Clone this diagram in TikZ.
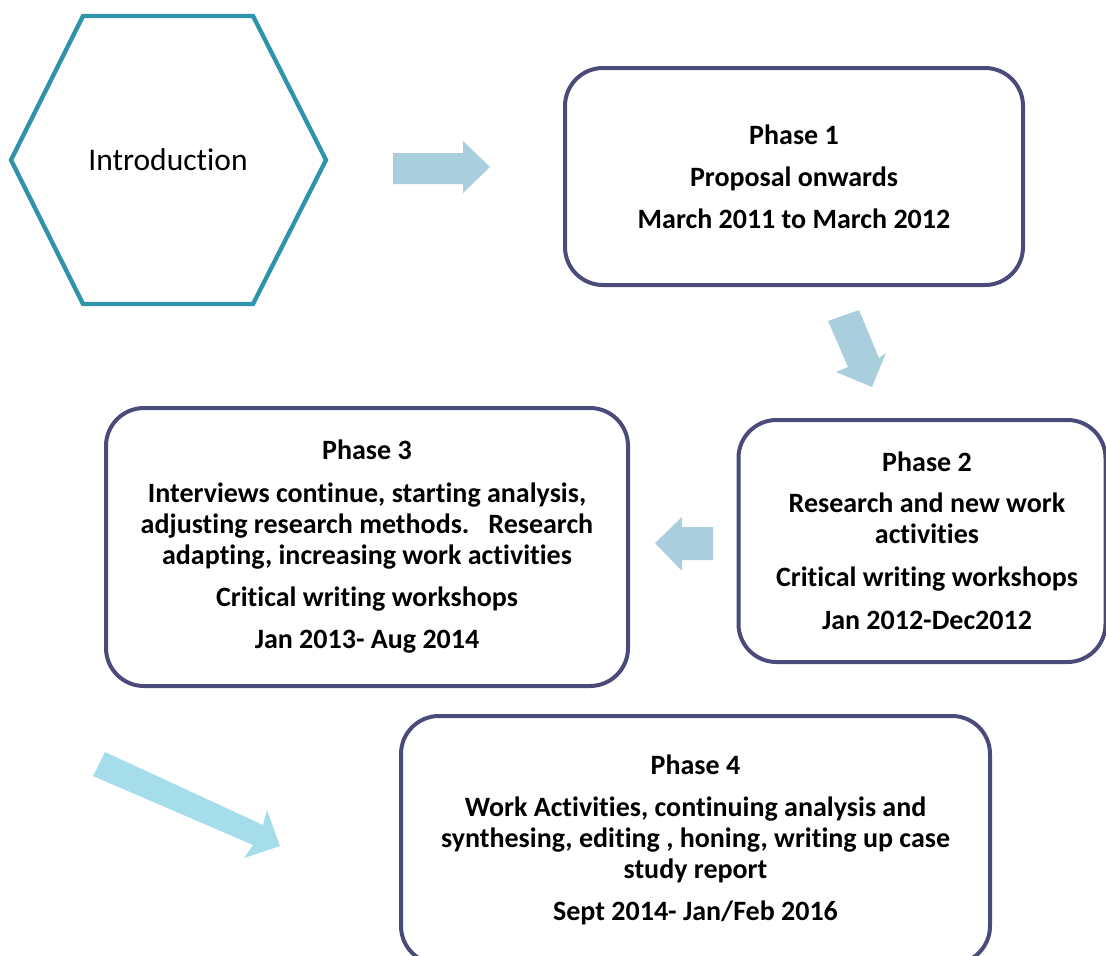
\documentclass[tikz,border=0pt]{standalone}
\usepackage{fontspec}
\setmainfont{Carlito}[Ligatures={NoCommon}]
\definecolor{hexc}{HTML}{2E93AB}
\definecolor{boxc}{HTML}{4A4B7B}
\definecolor{arrc}{HTML}{A9CEDD}
\definecolor{arrd}{HTML}{A6DDEA}
\tikzset{
  pbox/.style={draw=boxc, line width=4pt, rounded corners=38pt, fill=white},
  ptext/.style={align=center, font=\bfseries\fontsize{28}{31}\selectfont, inner sep=0pt},
  blockarrow/.style={fill=arrc, draw=none},
}
\begin{document}
\begin{tikzpicture}[x=1pt,y=-1pt]
\useasboundingbox (0,0) rectangle (1106,956);
\clip (0,0) rectangle (1106,956);
% Introduction hexagon
\node[font=\fontsize{31.5}{36}\selectfont, inner sep=0pt] (intro) at (168,160) {Introduction};
\draw[hexc, line width=4.3pt, line join=miter]
  ([shift={(-85,-144)}]intro.center) -- ([shift={(85,-144)}]intro.center)
  -- ([shift={(158,0)}]intro.center) -- ([shift={(85,144)}]intro.center)
  -- ([shift={(-85,144)}]intro.center) -- ([shift={(-157,0)}]intro.center) -- cycle;
% boxes
\node[pbox, minimum width=458pt, minimum height=217pt] (p1) at (794,176.5) {};
\node[ptext] (p1t) at (p1.center) {Phase 1\\[11pt]Proposal onwards\\[11pt]March 2011 to March 2012};
\node[pbox, minimum width=367pt, minimum height=242pt] (p2) at (922,541) {};
\node[ptext] (p2t) at ([xshift=5pt]p2.center) {Phase 2\\[10pt]Research and new work\\activities\\[12pt]Critical writing workshops\\[12pt]Jan 2012-Dec2012};
\node[pbox, minimum width=522pt, minimum height=278pt] (p3) at (367,547) {};
\node[ptext] (p3t) at (p3.center) {Phase 3\\[12pt]Interviews continue, starting analysis,\\adjusting research methods.\ \ \ Research\\adapting, increasing work activities\\[11pt]Critical writing workshops\\[11pt]Jan 2013- Aug 2014};
\node[pbox, minimum width=589pt, minimum height=248pt] (p4) at (695.5,840) {};
\node[ptext] (p4t) at (p4.center) {Phase 4\\[11pt]Work Activities, continuing analysis and\\synthesing, editing , honing, writing up case\\study report\\[11pt]Sept 2014- Jan/Feb 2016};
% block arrows
\fill[blockarrow] (393,153) -- (463,153) -- (463,141) -- (490,167) -- (463,193) -- (463,184) -- (393,184) -- cycle;
\fill[blockarrow] (828,321) -- (859,310) -- (879,358) -- (886,353) -- (872,387) -- (836,372) -- (848,367) -- cycle;
\fill[blockarrow] (713,527) -- (682,527) -- (682,517) -- (655,543) -- (682,571) -- (682,560) -- (713,560) -- cycle;
\fill[arrd] (105,752) -- (263,825) -- (267,810) -- (280,846) -- (244,858) -- (253,845) -- (93,776) -- cycle;
\end{tikzpicture}
\end{document}
